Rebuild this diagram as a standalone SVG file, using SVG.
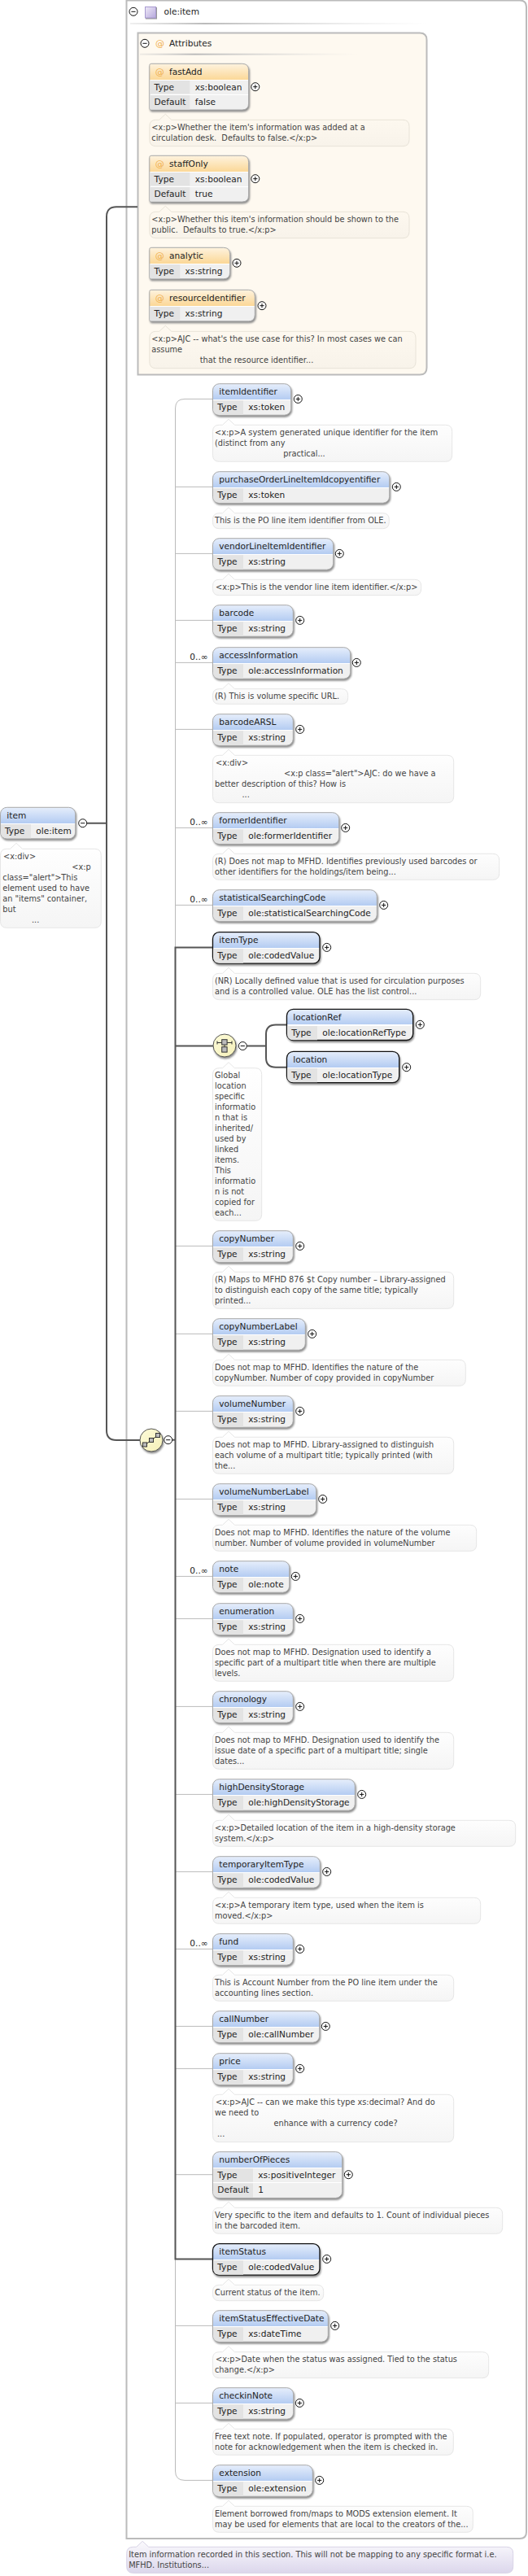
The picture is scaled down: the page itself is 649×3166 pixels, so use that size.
<svg xmlns="http://www.w3.org/2000/svg" width="649" height="3166" viewBox="0 0 649 3166">
<style>
text{white-space:pre}
.t{font:10.6px "DejaVu Sans",sans-serif;fill:#222}
.n{font:9.75px "DejaVu Sans",sans-serif;fill:#444}
.at{font:11px "DejaVu Sans",sans-serif;fill:#f0b050}
.e{fill:url(#eg);stroke:#aaa;stroke-width:1;filter:drop-shadow(1.5px 2px .8px #8a8a8a)}
.k{stroke:#111;stroke-width:1.3}
.a1{fill:url(#a1);stroke:#aaa;stroke-width:1;filter:drop-shadow(1.5px 2px .8px #8a8a8a)}
.a2{fill:url(#a2);stroke:#aaa;stroke-width:1;filter:drop-shadow(1.5px 2px .8px #8a8a8a)}
.nt{fill:url(#ng);stroke:#e6e6e6;stroke-width:1}
.na{fill:url(#nag);stroke:#e8e3d8;stroke-width:1}
.cell{fill:#e3e3e3}
.thin{fill:none;stroke:#bbb;stroke-width:1}
.thick{fill:none;stroke:#555;stroke-width:2}
.box{fill:#fff;stroke:#bbb;stroke-width:2}
.ico{fill:url(#yg);stroke:#555;stroke-width:1;filter:drop-shadow(1.5px 2px .8px #8a8a8a)}
.gl{fill:#bbb;stroke:#333;stroke-width:1}
.btn{fill:#fff;stroke:#111;stroke-width:1}
.btnl{fill:none;stroke:#111;stroke-width:1}
</style>
<defs>
<linearGradient id="eg" x1="0" y1="0" x2="0" y2="1"><stop offset="0" stop-color="#e6eefb"/><stop offset=".5" stop-color="#b4ccf2"/><stop offset=".5" stop-color="#fff"/><stop offset=".53" stop-color="#fff"/><stop offset=".53" stop-color="#f0f0f0"/><stop offset="1" stop-color="#f0f0f0"/></linearGradient>
<linearGradient id="a1" x1="0" y1="0" x2="0" y2="1"><stop offset="0" stop-color="#fef3df"/><stop offset=".5" stop-color="#fbd898"/><stop offset=".5" stop-color="#fff"/><stop offset=".53" stop-color="#fff"/><stop offset=".53" stop-color="#f0f0f0"/><stop offset="1" stop-color="#f0f0f0"/></linearGradient>
<linearGradient id="a2" x1="0" y1="0" x2="0" y2="1"><stop offset="0" stop-color="#fef3df"/><stop offset=".345" stop-color="#fbd898"/><stop offset=".345" stop-color="#fff"/><stop offset=".365" stop-color="#fff"/><stop offset=".365" stop-color="#f0f0f0"/><stop offset=".66" stop-color="#f0f0f0"/><stop offset=".66" stop-color="#fff"/><stop offset=".68" stop-color="#fff"/><stop offset=".68" stop-color="#f0f0f0"/><stop offset="1" stop-color="#f0f0f0"/></linearGradient>
<linearGradient id="e2" x1="0" y1="0" x2="0" y2="1"><stop offset="0" stop-color="#e6eefb"/><stop offset=".345" stop-color="#b4ccf2"/><stop offset=".345" stop-color="#fff"/><stop offset=".365" stop-color="#fff"/><stop offset=".365" stop-color="#f0f0f0"/><stop offset=".66" stop-color="#f0f0f0"/><stop offset=".66" stop-color="#fff"/><stop offset=".68" stop-color="#fff"/><stop offset=".68" stop-color="#f0f0f0"/><stop offset="1" stop-color="#f0f0f0"/></linearGradient>
<linearGradient id="ng" x1="0" y1="0" x2="0" y2="1"><stop offset="0" stop-color="#fff"/><stop offset="1" stop-color="#f5f5f5"/></linearGradient>
<linearGradient id="nag" x1="0" y1="0" x2="0" y2="1"><stop offset="0" stop-color="#fef9f0"/><stop offset="1" stop-color="#f8f3ea"/></linearGradient>
<linearGradient id="npg" x1="0" y1="0" x2="0" y2="1"><stop offset="0" stop-color="#fbfafd"/><stop offset="1" stop-color="#dcd7ec"/></linearGradient>
<linearGradient id="yg" x1="0" y1="0" x2="1" y2="1"><stop offset="0" stop-color="#fdfbd9"/><stop offset="1" stop-color="#f5f0b8"/></linearGradient>
<linearGradient id="pg" x1="0" y1="0" x2="1" y2="1"><stop offset="0" stop-color="#efeaf8"/><stop offset="1" stop-color="#b6a8dc"/></linearGradient>
<linearGradient id="sp" x1="0" y1="0" x2="1" y2="0"><stop offset="0" stop-color="#ccc" stop-opacity=".3"/><stop offset=".25" stop-color="#bbb"/><stop offset="1" stop-color="#ddd" stop-opacity="0"/></linearGradient>
<path id="tc" class="cell" d="M.5 20.6H37.5V38H8Q.5 38 .5 30Z"/>
<path id="tca" class="cell" d="M.5 20.6H37.5V38H2Q.5 38 .5 36.5Z"/>
<path id="tcd" class="cell" d="M.5 20.6H49.5V37H.5ZM.5 38.6H49.5V56.2H2Q.5 56.2 .5 54.7Z"/>
<g id="plus"><circle class="btn" r="5"/><path class="btnl" d="M-2.6 0H2.6M0-2.6V2.6"/></g>
<g id="minus"><circle class="btn" r="5"/><path class="btnl" d="M-2.6 0H2.6"/></g>
</defs>

<g id="olebox">
<path class="box" d="M155.5 .5H639Q647 .5 647 8.5V3112Q647 3120 639 3120H155.5Z"/>
<use href="#minus" x="164" y="14.3"/>
<rect x="178.5" y="8.5" width="13" height="13.5" fill="url(#pg)" stroke="#a89ad0" stroke-width="1" style="filter:drop-shadow(1px 1px .6px #999)"/>
<text class="t" x="201.5" y="18.3">ole:item</text>
<rect x="160" y="28" width="365" height="2" fill="url(#sp)"/>
</g>

<g id="attributes">
<path d="M169.5 40.5H516Q524.5 40.5 524.5 49V452Q524.5 460.5 516 460.5H169.5Z" fill="#fef9f0" stroke="#bbb" stroke-width="2"/>
<use href="#minus" x="178" y="53.3"/>
<text class="at" x="191" y="57.3">@</text>
<text class="t" x="208" y="57.3">Attributes</text>
<rect x="172" y="65.7" width="268" height="2" fill="url(#sp)"/>
</g>

<g id="connectors">
<path class="thick" d="M107 1011.7H131M169 254.3H143Q131 254.3 131 266.3V1758Q131 1770 143 1770H172"/>
<path class="thick" d="M211.7 1769.7H215"/>
<path class="thin" d="M261.5 490.4H227Q215.5 490.4 215.5 502V3037Q215.5 3048.4 227 3048.4H261.5"/>
<path class="thin" d="M215.5 598.4H261.5M215.5 680.4H261.5M215.5 762.4H261.5M215.5 814.4H261.5M215.5 896.4H261.5M215.5 1017.4H261.5M215.5 1112.4H261.5M215.5 1531.4H261.5M215.5 1639.4H261.5M215.5 1734.4H261.5M215.5 1842.4H261.5M215.5 1937.4H261.5M215.5 1989.4H261.5M215.5 2097.4H261.5M215.5 2205.4H261.5M215.5 2300.4H261.5M215.5 2395.4H261.5M215.5 2490.4H261.5M215.5 2542.4H261.5M215.5 2672.7H261.5M215.5 2858.4H261.5M215.5 2953.4H261.5"/>
<path class="thick" d="M261.5 1164.4H215.5V2776.4H261.5M215.5 1285.5H262M303.3 1285.5H327"/>
<path class="thick" d="M352.3 1259.4H339Q327 1259.4 327 1271V1300Q327 1311.7 339 1311.7H352.3"/>
</g>

<g id="sequence">
<circle class="ico" cx="186" cy="1770" r="14"/>
<path fill="none" stroke="#333" d="M178 1776L194 1764"/>
<rect class="gl" x="175.5" y="1773" width="5" height="5"/><rect class="gl" x="183.5" y="1767.5" width="5" height="5"/><rect class="gl" x="191.5" y="1761.5" width="5" height="5"/>
<use href="#minus" x="206.7" y="1769.7"/>
</g>

<g id="item" transform="translate(.5 992.3)">
<rect class="e" width="92.2" height="38.5" rx="8"/><use href="#tc"/>
<text class="t" x="7.8" y="13.6">item</text><text class="t" x="5.5" y="32.3">Type</text><text class="t" x="43.8" y="32.3">ole:item</text>
<use href="#minus" x="101.2" y="19.4"/>
<g transform="translate(0 51)"><path class="nt" d="M8 0H12L19.5-7 27 0H115.8Q123.8 0 123.8 8V89Q123.8 97 115.8 97H8Q0 97 0 89V8Q0 0 8 0Z"/>
<text class="n" x="3.5" y="12.4">&lt;x:div&gt;</text><text class="n" x="87.8" y="25.4">&lt;x:p</text><text class="n" x="2.8" y="38.4">class="alert"&gt;This</text><text class="n" x="2.8" y="51.4">element used to have</text><text class="n" x="2.8" y="64.4">an "items" container,</text><text class="n" x="2.8" y="77.4">but</text><text class="n" x="38.5" y="90.7">...</text></g>
</g>

<g id="fastAdd" transform="translate(183.8 78.3)">
<path class="a2" d="M0 2Q0 0 2 0H113.8Q121.8 0 121.8 8V48.7Q121.8 56.7 113.8 56.7H2Q0 56.7 0 54.7Z"/><use href="#tcd"/>
<text class="at" x="7" y="13.7">@</text><text class="t" x="24.3" y="13.7">fastAdd</text><text class="t" x="5.8" y="32.7">Type</text><text class="t" x="56" y="32.7">xs:boolean</text><text class="t" x="5.8" y="50.7">Default</text><text class="t" x="56" y="50.7">false</text>
<use href="#plus" x="130" y="28.4"/>
<g transform="translate(0 69)"><path class="na" d="M8 0H12L19.5-7 27 0H311.2Q319.2 0 319.2 8V24.4Q319.2 32.4 311.2 32.4H8Q0 32.4 0 24.4V8Q0 0 8 0Z"/>
<text class="n" x="2.5" y="12.7">&lt;x:p&gt;Whether the item's information was added at a</text><text class="n" x="2.5" y="25.7">circulation desk.  Defaults to false.&lt;/x:p&gt;</text></g>
</g>

<g id="staffOnly" transform="translate(183.8 191.3)">
<path class="a2" d="M0 2Q0 0 2 0H113.8Q121.8 0 121.8 8V48.7Q121.8 56.7 113.8 56.7H2Q0 56.7 0 54.7Z"/><use href="#tcd"/>
<text class="at" x="7" y="13.7">@</text><text class="t" x="24.3" y="13.7">staffOnly</text><text class="t" x="5.8" y="32.7">Type</text><text class="t" x="56" y="32.7">xs:boolean</text><text class="t" x="5.8" y="50.7">Default</text><text class="t" x="56" y="50.7">true</text>
<use href="#plus" x="130" y="28.4"/>
<g transform="translate(0 69)"><path class="na" d="M8 0H12L19.5-7 27 0H311.2Q319.2 0 319.2 8V24.4Q319.2 32.4 311.2 32.4H8Q0 32.4 0 24.4V8Q0 0 8 0Z"/>
<text class="n" x="2.5" y="12.7">&lt;x:p&gt;Whether this item's information should be shown to the</text><text class="n" x="2.5" y="25.7">public.  Defaults to true.&lt;/x:p&gt;</text></g>
</g>

<g id="analytic" transform="translate(183.8 304.3)">
<path class="a1" d="M0 2Q0 0 2 0H90.8Q98.8 0 98.8 8V30.5Q98.8 38.5 90.8 38.5H2Q0 38.5 0 36.5Z"/><use href="#tca"/>
<text class="at" x="7" y="13.7">@</text><text class="t" x="24.3" y="13.7">analytic</text><text class="t" x="5.8" y="32.5">Type</text><text class="t" x="43.8" y="32.5">xs:string</text>
<use href="#plus" x="107.2" y="19"/>
</g>

<g id="resourceIdentifier" transform="translate(183.8 356.3)">
<path class="a1" d="M0 2Q0 0 2 0H121.5Q129.5 0 129.5 8V30.5Q129.5 38.5 121.5 38.5H2Q0 38.5 0 36.5Z"/><use href="#tca"/>
<text class="at" x="7" y="13.7">@</text><text class="t" x="24.3" y="13.7">resourceIdentifier</text><text class="t" x="5.8" y="32.5">Type</text><text class="t" x="43.8" y="32.5">xs:string</text>
<use href="#plus" x="138.2" y="19.4"/>
<g transform="translate(0 51)"><path class="na" d="M8 0H12L19.5-7 27 0H319.2Q327.2 0 327.2 8V37.4Q327.2 45.4 319.2 45.4H8Q0 45.4 0 37.4V8Q0 0 8 0Z"/>
<text class="n" x="2.5" y="12.7">&lt;x:p&gt;AJC -- what's the use case for this? In most cases we can</text><text class="n" x="2.5" y="25.7">assume</text><text class="n" x="62" y="38.7">that the resource identifier...</text></g>
</g>

<g id="itemIdentifier" transform="translate(261.5 471.7)">
<rect class="e" width="96.2" height="38.5" rx="8"/><use href="#tc"/>
<text class="t" x="7.8" y="13.6">itemIdentifier</text><text class="t" x="5.8" y="32.3">Type</text><text class="t" x="43.8" y="32.3">xs:token</text>
<use href="#plus" x="104.8" y="18.7"/>
<g transform="translate(0 50.6)"><path class="nt" d="M8 0H12L19.5-7 27 0H286.2Q294.2 0 294.2 8V37Q294.2 45 286.2 45H8Q0 45 0 37V8Q0 0 8 0Z"/>
<text class="n" x="2.5" y="12.7">&lt;x:p&gt;A system generated unique identifier for the item</text><text class="n" x="2.5" y="25.7">(distinct from any</text><text class="n" x="86.8" y="38.7">practical...</text></g>
</g>

<g id="purchaseOrderLineItemIdcopyentifier" transform="translate(261.5 579.7)">
<rect class="e" width="217.2" height="38.5" rx="8"/><use href="#tc"/>
<text class="t" x="7.8" y="13.6">purchaseOrderLineItemIdcopyentifier</text><text class="t" x="5.8" y="32.3">Type</text><text class="t" x="43.8" y="32.3">xs:token</text>
<use href="#plus" x="225.8" y="18.7"/>
<g transform="translate(0 51)"><path class="nt" d="M8 0H12L19.5-7 27 0H208.8Q216.8 0 216.8 8V11Q216.8 19 208.8 19H8Q0 19 0 11V8Q0 0 8 0Z"/>
<text class="n" x="2.5" y="12.7">This is the PO line item identifier from OLE.</text></g>
</g>

<g id="vendorLineItemIdentifier" transform="translate(261.5 661.7)">
<rect class="e" width="148.2" height="38.5" rx="8"/><use href="#tc"/>
<text class="t" x="7.8" y="13.6">vendorLineItemIdentifier</text><text class="t" x="5.8" y="32.3">Type</text><text class="t" x="43.8" y="32.3">xs:string</text>
<use href="#plus" x="155.8" y="18.7"/>
<g transform="translate(0 50.6)"><path class="nt" d="M8 0H12L19.5-7 27 0H248.2Q256.2 0 256.2 8V11.4Q256.2 19.4 248.2 19.4H8Q0 19.4 0 11.4V8Q0 0 8 0Z"/>
<text class="n" x="3.5" y="12.7">&lt;x:p&gt;This is the vendor line item identifier.&lt;/x:p&gt;</text></g>
</g>

<g id="barcode" transform="translate(261.5 743.7)">
<rect class="e" width="98.8" height="38.5" rx="8"/><use href="#tc"/>
<text class="t" x="7.8" y="13.6">barcode</text><text class="t" x="5.8" y="32.3">Type</text><text class="t" x="43.8" y="32.3">xs:string</text>
<use href="#plus" x="107.2" y="18.7"/>
</g>

<g id="accessInformation" transform="translate(261.5 795.7)">
<rect class="e" width="169.2" height="38.5" rx="8"/><use href="#tc"/>
<text class="t" x="-28.2" y="15.6">0..∞</text>
<text class="t" x="7.8" y="13.6">accessInformation</text><text class="t" x="5.8" y="32.3">Type</text><text class="t" x="43.8" y="32.3">ole:accessInformation</text>
<use href="#plus" x="176.8" y="18.7"/>
<g transform="translate(0 51)"><path class="nt" d="M8 0H12L19.5-7 27 0H158.2Q166.2 0 166.2 8V10.6Q166.2 18.6 158.2 18.6H8Q0 18.6 0 10.6V8Q0 0 8 0Z"/>
<text class="n" x="2.5" y="12.7">(R) This is volume specific URL.</text></g>
</g>

<g id="barcodeARSL" transform="translate(261.5 877.7)">
<rect class="e" width="98.8" height="38.5" rx="8"/><use href="#tc"/>
<text class="t" x="7.8" y="13.6">barcodeARSL</text><text class="t" x="5.8" y="32.3">Type</text><text class="t" x="43.8" y="32.3">xs:string</text>
<use href="#plus" x="107.2" y="18.7"/>
<g transform="translate(0 50.6)"><path class="nt" d="M8 0H12L19.5-7 27 0H288.2Q296.2 0 296.2 8V50.4Q296.2 58.4 288.2 58.4H8Q0 58.4 0 50.4V8Q0 0 8 0Z"/>
<text class="n" x="3.5" y="12.7">&lt;x:div&gt;</text><text class="n" x="87.5" y="25.7">&lt;x:p class="alert"&gt;AJC: do we have a</text><text class="n" x="2.5" y="38.7">better description of this? How is</text><text class="n" x="36" y="52">...</text></g>
</g>

<g id="formerIdentifier" transform="translate(261.5 998.7)">
<rect class="e" width="155.2" height="38.5" rx="8"/><use href="#tc"/>
<text class="t" x="-28.2" y="15.6">0..∞</text>
<text class="t" x="7.8" y="13.6">formerIdentifier</text><text class="t" x="5.8" y="32.3">Type</text><text class="t" x="43.8" y="32.3">ole:formerIdentifier</text>
<use href="#plus" x="163.2" y="18.7"/>
<g transform="translate(0 50.6)"><path class="nt" d="M8 0H12L19.5-7 27 0H344.2Q352.2 0 352.2 8V24Q352.2 32 344.2 32H8Q0 32 0 24V8Q0 0 8 0Z"/>
<text class="n" x="2.5" y="12.7">(R) Does not map to MFHD. Identifies previously used barcodes or</text><text class="n" x="2.5" y="25.7">other identifiers for the holdings/item being...</text></g>
</g>

<g id="statisticalSearchingCode" transform="translate(261.5 1093.7)">
<rect class="e" width="201.8" height="38.5" rx="8"/><use href="#tc"/>
<text class="t" x="-28.2" y="15.6">0..∞</text>
<text class="t" x="7.8" y="13.6">statisticalSearchingCode</text><text class="t" x="5.8" y="32.3">Type</text><text class="t" x="43.8" y="32.3">ole:statisticalSearchingCode</text>
<use href="#plus" x="210.2" y="18.7"/>
</g>

<g id="itemType" transform="translate(261.5 1145.7)">
<rect class="e k" width="131.5" height="38.5" rx="8"/><use href="#tc"/>
<text class="t" x="7.8" y="13.6">itemType</text><text class="t" x="5.8" y="32.3">Type</text><text class="t" x="43.8" y="32.3">ole:codedValue</text>
<use href="#plus" x="140.2" y="18.7"/>
<g transform="translate(0 50.6)"><path class="nt" d="M8 0H12L19.5-7 27 0H321.2Q329.2 0 329.2 8V24.4Q329.2 32.4 321.2 32.4H8Q0 32.4 0 24.4V8Q0 0 8 0Z"/>
<text class="n" x="2.5" y="12.7">(NR) Locally defined value that is used for circulation purposes</text><text class="n" x="2.5" y="25.7">and is a controlled value. OLE has the list control...</text></g>
</g>

<g id="choice">
<circle class="ico" cx="276" cy="1285" r="14"/>
<path fill="none" stroke="#333" d="M267 1281.5H285M267 1279.5V1283.5M285 1279.5V1283.5M276 1284V1287"/>
<rect class="gl" x="272.7" y="1277.7" width="6.4" height="6.4"/><rect class="gl" x="272.7" y="1286.7" width="6.4" height="6.4" fill="#fff"/>
<use href="#minus" x="298.3" y="1285.5"/>
<g transform="translate(261.5 1312.7)"><path class="nt" d="M8 0H12L19.5-7 27 0H52.2Q60.2 0 60.2 8V179.6Q60.2 187.6 52.2 187.6H8Q0 187.6 0 179.6V8Q0 0 8 0Z"/>
<text class="n" x="2.5" y="12.3">Global</text><text class="n" x="2.5" y="25.3">location</text><text class="n" x="2.5" y="38.3">specific</text><text class="n" x="2.5" y="51.3">informatio</text><text class="n" x="2.5" y="64.3">n that is</text><text class="n" x="2.5" y="77.3">inherited/</text><text class="n" x="2.5" y="90.3">used by</text><text class="n" x="2.5" y="103.3">linked</text><text class="n" x="2.5" y="116.3">items.</text><text class="n" x="2.5" y="129.3">This</text><text class="n" x="2.5" y="142.3">informatio</text><text class="n" x="2.5" y="155.3">n is not</text><text class="n" x="2.5" y="168.3">copied for</text><text class="n" x="2.5" y="181.3">each...</text></g>
</g>

<g id="locationRef" transform="translate(352.5 1240.3)">
<rect class="e k" width="155.2" height="38.2" rx="8"/><use href="#tc"/>
<text class="t" x="7.8" y="13.6">locationRef</text><text class="t" x="5.8" y="32.3">Type</text><text class="t" x="43.8" y="32.3">ole:locationRefType</text>
<use href="#plus" x="163.8" y="19"/>
</g>

<g id="location" transform="translate(352.5 1292.3)">
<rect class="e k" width="138.2" height="38.4" rx="8"/><use href="#tc"/>
<text class="t" x="7.8" y="13.6">location</text><text class="t" x="5.8" y="32.3">Type</text><text class="t" x="43.8" y="32.3">ole:locationType</text>
<use href="#plus" x="147.2" y="19.4"/>
</g>

<g id="copyNumber" transform="translate(261.5 1512.7)">
<rect class="e" width="98.8" height="38.5" rx="8"/><use href="#tc"/>
<text class="t" x="7.8" y="13.6">copyNumber</text><text class="t" x="5.8" y="32.3">Type</text><text class="t" x="43.8" y="32.3">xs:string</text>
<use href="#plus" x="107.2" y="18.7"/>
<g transform="translate(0 50.6)"><path class="nt" d="M8 0H12L19.5-7 27 0H288.2Q296.2 0 296.2 8V37Q296.2 45 288.2 45H8Q0 45 0 37V8Q0 0 8 0Z"/>
<text class="n" x="2.5" y="12.7">(R) Maps to MFHD 876 $t Copy number – Library-assigned</text><text class="n" x="2.5" y="25.7">to distinguish each copy of the same title; typically</text><text class="n" x="2.5" y="38.7">printed...</text></g>
</g>

<g id="copyNumberLabel" transform="translate(261.5 1620.7)">
<rect class="e" width="113.8" height="38.5" rx="8"/><use href="#tc"/>
<text class="t" x="7.8" y="13.6">copyNumberLabel</text><text class="t" x="5.8" y="32.3">Type</text><text class="t" x="43.8" y="32.3">xs:string</text>
<use href="#plus" x="122.2" y="18.7"/>
<g transform="translate(0 50.6)"><path class="nt" d="M8 0H12L19.5-7 27 0H302.8Q310.8 0 310.8 8V24Q310.8 32 302.8 32H8Q0 32 0 24V8Q0 0 8 0Z"/>
<text class="n" x="2.5" y="12.7">Does not map to MFHD. Identifies the nature of the</text><text class="n" x="2.5" y="25.7">copyNumber. Number of copy provided in copyNumber</text></g>
</g>

<g id="volumeNumber" transform="translate(261.5 1715.7)">
<rect class="e" width="98.8" height="38.5" rx="8"/><use href="#tc"/>
<text class="t" x="7.8" y="13.6">volumeNumber</text><text class="t" x="5.8" y="32.3">Type</text><text class="t" x="43.8" y="32.3">xs:string</text>
<use href="#plus" x="107.2" y="18.7"/>
<g transform="translate(0 50.6)"><path class="nt" d="M8 0H12L19.5-7 27 0H288.2Q296.2 0 296.2 8V37Q296.2 45 288.2 45H8Q0 45 0 37V8Q0 0 8 0Z"/>
<text class="n" x="2.5" y="12.7">Does not map to MFHD. Library-assigned to distinguish</text><text class="n" x="2.5" y="25.7">each volume of a multipart title; typically printed (with</text><text class="n" x="2.5" y="38.7">the...</text></g>
</g>

<g id="volumeNumberLabel" transform="translate(261.5 1823.7)">
<rect class="e" width="127.2" height="38.5" rx="8"/><use href="#tc"/>
<text class="t" x="7.8" y="13.6">volumeNumberLabel</text><text class="t" x="5.8" y="32.3">Type</text><text class="t" x="43.8" y="32.3">xs:string</text>
<use href="#plus" x="135.2" y="18.7"/>
<g transform="translate(0 50.6)"><path class="nt" d="M8 0H12L19.5-7 27 0H316.2Q324.2 0 324.2 8V24Q324.2 32 316.2 32H8Q0 32 0 24V8Q0 0 8 0Z"/>
<text class="n" x="2.5" y="12.7">Does not map to MFHD. Identifies the nature of the volume</text><text class="n" x="2.5" y="25.7">number. Number of volume provided in volumeNumber</text></g>
</g>

<g id="note" transform="translate(261.5 1918.7)">
<rect class="e" width="94.2" height="38.5" rx="8"/><use href="#tc"/>
<text class="t" x="-28.2" y="15.6">0..∞</text>
<text class="t" x="7.8" y="13.6">note</text><text class="t" x="5.8" y="32.3">Type</text><text class="t" x="43.8" y="32.3">ole:note</text>
<use href="#plus" x="101.8" y="18.7"/>
</g>

<g id="enumeration" transform="translate(261.5 1970.7)">
<rect class="e" width="98.8" height="38.5" rx="8"/><use href="#tc"/>
<text class="t" x="7.8" y="13.6">enumeration</text><text class="t" x="5.8" y="32.3">Type</text><text class="t" x="43.8" y="32.3">xs:string</text>
<use href="#plus" x="107.2" y="18.7"/>
<g transform="translate(0 50.6)"><path class="nt" d="M8 0H12L19.5-7 27 0H288.2Q296.2 0 296.2 8V37Q296.2 45 288.2 45H8Q0 45 0 37V8Q0 0 8 0Z"/>
<text class="n" x="2.5" y="12.7">Does not map to MFHD. Designation used to identify a</text><text class="n" x="2.5" y="25.7">specific part of a multipart title when there are multiple</text><text class="n" x="2.5" y="38.7">levels.</text></g>
</g>

<g id="chronology" transform="translate(261.5 2078.7)">
<rect class="e" width="98.8" height="38.5" rx="8"/><use href="#tc"/>
<text class="t" x="7.8" y="13.6">chronology</text><text class="t" x="5.8" y="32.3">Type</text><text class="t" x="43.8" y="32.3">xs:string</text>
<use href="#plus" x="107.2" y="18.7"/>
<g transform="translate(0 50.6)"><path class="nt" d="M8 0H12L19.5-7 27 0H288.2Q296.2 0 296.2 8V37Q296.2 45 288.2 45H8Q0 45 0 37V8Q0 0 8 0Z"/>
<text class="n" x="2.5" y="12.7">Does not map to MFHD. Designation used to identify the</text><text class="n" x="2.5" y="25.7">issue date of a specific part of a multipart title; single</text><text class="n" x="2.5" y="38.7">dates...</text></g>
</g>

<g id="highDensityStorage" transform="translate(261.5 2186.7)">
<rect class="e" width="174.8" height="38.5" rx="8"/><use href="#tc"/>
<text class="t" x="7.8" y="13.6">highDensityStorage</text><text class="t" x="5.8" y="32.3">Type</text><text class="t" x="43.8" y="32.3">ole:highDensityStorage</text>
<use href="#plus" x="183.2" y="18.7"/>
<g transform="translate(0 50.6)"><path class="nt" d="M8 0H12L19.5-7 27 0H364.2Q372.2 0 372.2 8V24Q372.2 32 364.2 32H8Q0 32 0 24V8Q0 0 8 0Z"/>
<text class="n" x="2.5" y="12.7">&lt;x:p&gt;Detailed location of the item in a high-density storage</text><text class="n" x="2.5" y="25.7">system.&lt;/x:p&gt;</text></g>
</g>

<g id="temporaryItemType" transform="translate(261.5 2281.7)">
<rect class="e" width="131.8" height="38.5" rx="8"/><use href="#tc"/>
<text class="t" x="7.8" y="13.6">temporaryItemType</text><text class="t" x="5.8" y="32.3">Type</text><text class="t" x="43.8" y="32.3">ole:codedValue</text>
<use href="#plus" x="140.2" y="18.7"/>
<g transform="translate(0 50.6)"><path class="nt" d="M8 0H12L19.5-7 27 0H321.2Q329.2 0 329.2 8V24Q329.2 32 321.2 32H8Q0 32 0 24V8Q0 0 8 0Z"/>
<text class="n" x="2.5" y="12.7">&lt;x:p&gt;A temporary item type, used when the item is</text><text class="n" x="2.5" y="25.7">moved.&lt;/x:p&gt;</text></g>
</g>

<g id="fund" transform="translate(261.5 2376.7)">
<rect class="e" width="98.8" height="38.5" rx="8"/><use href="#tc"/>
<text class="t" x="-28.2" y="15.6">0..∞</text>
<text class="t" x="7.8" y="13.6">fund</text><text class="t" x="5.8" y="32.3">Type</text><text class="t" x="43.8" y="32.3">xs:string</text>
<use href="#plus" x="107.2" y="18.7"/>
<g transform="translate(0 50.6)"><path class="nt" d="M8 0H12L19.5-7 27 0H288.2Q296.2 0 296.2 8V24Q296.2 32 288.2 32H8Q0 32 0 24V8Q0 0 8 0Z"/>
<text class="n" x="2.5" y="12.7">This is Account Number from the PO line item under the</text><text class="n" x="2.5" y="25.7">accounting lines section.</text></g>
</g>

<g id="callNumber" transform="translate(261.5 2471.7)">
<rect class="e" width="131.2" height="38.5" rx="8"/><use href="#tc"/>
<text class="t" x="7.8" y="13.6">callNumber</text><text class="t" x="5.8" y="32.3">Type</text><text class="t" x="43.8" y="32.3">ole:callNumber</text>
<use href="#plus" x="138.8" y="18.7"/>
</g>

<g id="price" transform="translate(261.5 2523.7)">
<rect class="e" width="98.8" height="38.5" rx="8"/><use href="#tc"/>
<text class="t" x="7.8" y="13.6">price</text><text class="t" x="5.8" y="32.3">Type</text><text class="t" x="43.8" y="32.3">xs:string</text>
<use href="#plus" x="107.2" y="18.7"/>
<g transform="translate(0 50.6)"><path class="nt" d="M8 0H12L19.5-7 27 0H288.2Q296.2 0 296.2 8V50.4Q296.2 58.4 288.2 58.4H8Q0 58.4 0 50.4V8Q0 0 8 0Z"/>
<text class="n" x="3.5" y="12.7">&lt;x:p&gt;AJC -- can we make this type xs:decimal? And do</text><text class="n" x="2.5" y="25.7">we need to</text><text class="n" x="75" y="38.7">enhance with a currency code?</text><text class="n" x="5.5" y="52">...</text></g>
</g>

<g id="numberOfPieces" transform="translate(261.5 2644.7)">
<rect class="e" style="fill:url(#e2)" width="159.2" height="56.7" rx="8"/><path class="cell" d="M.5 20.6H49.5V37H.5ZM.5 38.6H49.5V56.2H8Q.5 56.2 .5 48.7Z"/>
<text class="t" x="7.8" y="13.6">numberOfPieces</text><text class="t" x="5.8" y="32.3">Type</text><text class="t" x="55.8" y="32.3">xs:positiveInteger</text><text class="t" x="5.8" y="50.3">Default</text><text class="t" x="55.8" y="50.3">1</text>
<use href="#plus" x="166.8" y="28"/>
<g transform="translate(0 68.6)"><path class="nt" d="M8 0H12L19.5-7 27 0H348.2Q356.2 0 356.2 8V24Q356.2 32 348.2 32H8Q0 32 0 24V8Q0 0 8 0Z"/>
<text class="n" x="2.5" y="12.7">Very specific to the item and defaults to 1. Count of individual pieces</text><text class="n" x="2.5" y="25.7">in the barcoded item.</text></g>
</g>

<g id="itemStatus" transform="translate(261.5 2757.7)">
<rect class="e k" width="131.5" height="38.5" rx="8"/><use href="#tc"/>
<text class="t" x="7.8" y="13.6">itemStatus</text><text class="t" x="5.8" y="32.3">Type</text><text class="t" x="43.8" y="32.3">ole:codedValue</text>
<use href="#plus" x="140.2" y="18.7"/>
<g transform="translate(0 50.6)"><path class="nt" d="M8 0H12L19.5-7 27 0H128.2Q136.2 0 136.2 8V11.4Q136.2 19.4 128.2 19.4H8Q0 19.4 0 11.4V8Q0 0 8 0Z"/>
<text class="n" x="2.5" y="12.7">Current status of the item.</text></g>
</g>

<g id="itemStatusEffectiveDate" transform="translate(261.5 2839.7)">
<rect class="e" width="141.8" height="38.5" rx="8"/><use href="#tc"/>
<text class="t" x="7.8" y="13.6">itemStatusEffectiveDate</text><text class="t" x="5.8" y="32.3">Type</text><text class="t" x="43.8" y="32.3">xs:dateTime</text>
<use href="#plus" x="150.2" y="18.7"/>
<g transform="translate(0 51)"><path class="nt" d="M8 0H12L19.5-7 27 0H331.2Q339.2 0 339.2 8V24Q339.2 32 331.2 32H8Q0 32 0 24V8Q0 0 8 0Z"/>
<text class="n" x="3.5" y="12.7">&lt;x:p&gt;Date when the status was assigned. Tied to the status</text><text class="n" x="2.5" y="25.7">change.&lt;/x:p&gt;</text></g>
</g>

<g id="checkinNote" transform="translate(261.5 2934.7)">
<rect class="e" width="99.2" height="38.5" rx="8"/><use href="#tc"/>
<text class="t" x="7.8" y="13.6">checkinNote</text><text class="t" x="5.8" y="32.3">Type</text><text class="t" x="43.8" y="32.3">xs:string</text>
<use href="#plus" x="106.8" y="18.7"/>
<g transform="translate(0 50.6)"><path class="nt" d="M8 0H12L19.5-7 27 0H287.8Q295.8 0 295.8 8V24Q295.8 32 287.8 32H8Q0 32 0 24V8Q0 0 8 0Z"/>
<text class="n" x="2.5" y="12.7">Free text note. If populated, operator is prompted with the</text><text class="n" x="2.5" y="25.7">note for acknowledgement when the item is checked in.</text></g>
</g>

<g id="extension" transform="translate(261.5 3029.7)">
<rect class="e" width="122.8" height="38.5" rx="8"/><use href="#tc"/>
<text class="t" x="7.8" y="13.6">extension</text><text class="t" x="5.8" y="32.3">Type</text><text class="t" x="43.8" y="32.3">ole:extension</text>
<use href="#plus" x="131.2" y="18.7"/>
<g transform="translate(0 50.6)"><path class="nt" d="M8 0H12L19.5-7 27 0H311.8Q319.8 0 319.8 8V24Q319.8 32 311.8 32H8Q0 32 0 24V8Q0 0 8 0Z"/>
<text class="n" x="2.5" y="12.7">Element borrowed from/maps to MODS extension element. It</text><text class="n" x="2.5" y="25.7">may be used for elements that are local to the creators of the...</text></g>
</g>

<g id="olenote" transform="translate(155.7 3130.3)">
<path fill="url(#npg)" stroke="#d8d3e6" d="M8 0H12L19.5-7 27 0H467Q475 0 475 8V24Q475 32 467 32H8Q0 32 0 24V8Q0 0 8 0Z"/>
<text class="n" x="2.5" y="12.4">Item information recorded in this section. This will not be mapping to any specific format i.e.</text><text class="n" x="2.5" y="25.4">MFHD. Institutions...</text>
</g>
</svg>
